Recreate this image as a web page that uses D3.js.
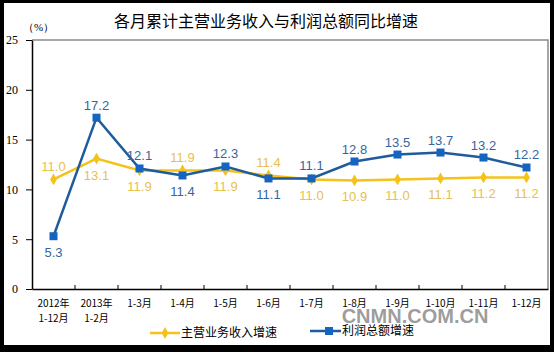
<!DOCTYPE html>
<html>
<head>
<meta charset="utf-8">
<script src="https://cdn.jsdelivr.net/npm/d3@7"></script>
<style>
  body { margin: 0; background: #000; }
  svg { display: block; }
</style>
</head>
<body>
<div id="chart"></div>
<script>
// data
const categories = ["2012年\n1-12月", "2013年\n1-2月", "1-3月", "1-4月", "1-5月", "1-6月",
  "1-7月", "1-8月", "1-9月", "1-10月", "1-11月", "1-12月"];
const revenue = [11.0, 13.1, 11.9, 11.9, 11.9, 11.4, 11.0, 10.9, 11.0, 11.1, 11.2, 11.2];
const profit = [5.3, 17.2, 12.1, 11.4, 12.3, 11.1, 11.1, 12.8, 13.5, 13.7, 13.2, 12.2];
const yTicks = [0, 5, 10, 15, 20, 25];

const width = 554, height = 352;
const plotLeft = 32, plotRight = 548, plotTop = 40, plotBottom = 289;

const yellow = "#f5c21b", yellowText = "#e8c04e";
const blue = "#1f5c9c", blueMark = "#1464c0", blueText = "#3566a0";

const svg = d3.select("#chart").append("svg")
  .attr("width", width)
  .attr("height", height);

// frame
svg.append("rect").attr("width", width).attr("height", height).attr("fill", "#000");
svg.append("rect").attr("x", 4).attr("y", 3).attr("width", 546).attr("height", 342).attr("fill", "#fff");

const x = d3.scaleBand().domain(categories).range([plotLeft, plotRight]);
const y = d3.scaleLinear().domain([0, 25]).range([plotBottom, plotTop]);

// plot box (gray top/right)
svg.append("path")
  .attr("d", `M${plotLeft},${plotTop}H${plotRight}V${plotBottom}`)
  .attr("fill", "none").attr("stroke", "#8a8a8a").attr("stroke-width", 1.5);

// y axis
const yAxis = svg.append("g")
  .attr("transform", `translate(${plotLeft},0)`)
  .call(d3.axisLeft(y).tickValues(yTicks).tickSize(6).tickPadding(8).tickSizeOuter(0));
yAxis.select(".domain").attr("stroke", "#000").attr("stroke-width", 1.5);
yAxis.selectAll(".tick line").attr("stroke", "#000");
yAxis.selectAll("text")
  .attr("font-family", "'Liberation Serif', serif")
  .attr("font-size", 12)
  .attr("fill", "#000");

// x axis
const xAxis = svg.append("g")
  .attr("transform", `translate(0,${plotBottom})`)
  .call(d3.axisBottom(x).tickSize(0).tickSizeOuter(0).tickFormat(""));
xAxis.select(".domain").attr("stroke", "#000").attr("stroke-width", 1.5);

// tick marks between categories, pointing inward
svg.append("g").selectAll("line")
  .data(categories.slice(1))
  .join("line")
  .attr("x1", d => x(d)).attr("x2", d => x(d))
  .attr("y1", plotBottom).attr("y2", plotBottom - 4)
  .attr("stroke", "#000");

// x labels
const xl = svg.append("g")
  .attr("font-family", "'Noto Sans CJK SC', sans-serif")
  .attr("font-size", 10)
  .attr("fill", "#000")
  .attr("text-anchor", "middle");
categories.forEach(c => {
  c.split("\n").forEach((line, i) => {
    xl.append("text")
      .attr("x", x(c) + x.bandwidth() / 2)
      .attr("y", plotBottom + 18 + i * 15)
      .text(line);
  });
});

// unit
svg.append("text")
  .attr("x", 23).attr("y", 31)
  .attr("font-family", "'Liberation Serif', serif")
  .attr("font-size", 11)
  .text("（%）");

// title
svg.append("text")
  .attr("x", 266).attr("y", 27)
  .attr("text-anchor", "middle")
  .attr("font-family", "'Noto Sans CJK SC', sans-serif")
  .attr("font-size", 16)
  .text("各月累计主营业务收入与利润总额同比增速");

const cx = i => x(categories[i]) + x.bandwidth() / 2;
const line = d3.line().x((d, i) => cx(i)).y(d => y(d));

// revenue series
svg.append("path").datum(revenue)
  .attr("d", line).attr("fill", "none")
  .attr("stroke", yellow).attr("stroke-width", 2.5);
svg.append("g").selectAll("path")
  .data(revenue).join("path")
  .attr("d", d3.symbol(d3.symbolDiamond, 40))
  .attr("transform", (d, i) => `translate(${cx(i)},${y(d)})`)
  .attr("fill", yellow);

// profit series
svg.append("path").datum(profit)
  .attr("d", line).attr("fill", "none")
  .attr("stroke", blue).attr("stroke-width", 2.5);
svg.append("g").selectAll("rect")
  .data(profit).join("rect")
  .attr("x", (d, i) => cx(i) - 4).attr("y", d => y(d) - 4)
  .attr("width", 8).attr("height", 8)
  .attr("fill", blueMark);

// value labels: higher series above, lower below
const labelFont = "'Liberation Sans', Arial, sans-serif";
function addLabels(values, above, color) {
  svg.append("g")
    .attr("font-family", labelFont)
    .attr("font-size", 13)
    .attr("fill", color)
    .attr("text-anchor", "middle")
    .selectAll("text")
    .data(values).join("text")
    .attr("x", (d, i) => cx(i))
    .attr("y", (d, i) => above(i) ? y(d) - 8 : y(d) + 21)
    .text(d => d.toFixed(1));
}
addLabels(revenue, i => revenue[i] > profit[i], yellowText);
addLabels(profit, i => profit[i] >= revenue[i], blueText);

// legend
const lg = svg.append("g").attr("font-family", "'Noto Sans CJK SC', sans-serif").attr("font-size", 12);
lg.append("line").attr("x1", 150).attr("x2", 180).attr("y1", 333).attr("y2", 333)
  .attr("stroke", yellow).attr("stroke-width", 2.5);
lg.append("path").attr("d", d3.symbol(d3.symbolDiamond, 40))
  .attr("transform", "translate(165,333)").attr("fill", yellow);
lg.append("text").attr("x", 181).attr("y", 337).text("主营业务收入增速");
lg.append("line").attr("x1", 310).attr("x2", 341).attr("y1", 331).attr("y2", 331)
  .attr("stroke", blue).attr("stroke-width", 2.5);
lg.append("rect").attr("x", 325).attr("y", 327).attr("width", 8).attr("height", 8).attr("fill", blueMark);
lg.append("text").attr("x", 342).attr("y", 335).text("利润总额增速");

// watermark
svg.append("text")
  .attr("x", 415).attr("y", 323)
  .attr("text-anchor", "middle")
  .attr("font-family", "'Liberation Sans', Arial, sans-serif")
  .attr("font-weight", "bold")
  .attr("font-size", 20)
  .attr("fill", "#8c8c8c")
  .attr("fill-opacity", 0.85)
  .text("CNMN.COM.CN");
</script>
</body>
</html>
